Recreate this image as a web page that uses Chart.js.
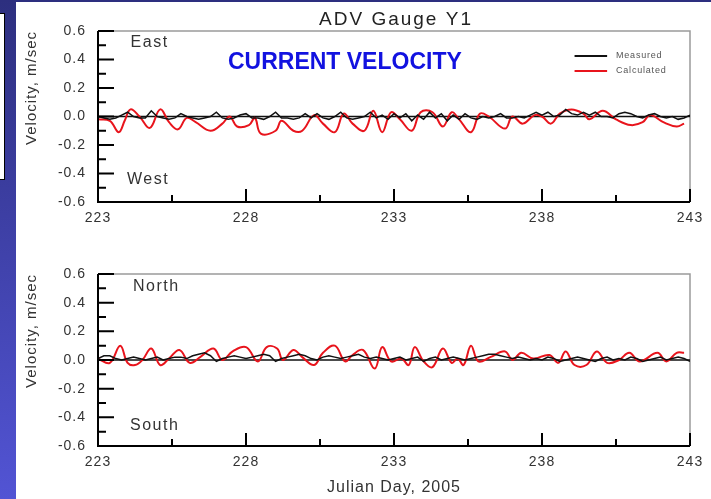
<!DOCTYPE html>
<html>
<head>
<meta charset="utf-8">
<script src="https://cdn.jsdelivr.net/npm/chart.js@4.4.0/dist/chart.umd.min.js"></script>
<style>
  body { margin:0; width:711px; height:499px; overflow:hidden; background:#fff; position:relative; }
  #side { position:absolute; left:0; top:0; width:16px; height:499px; background:linear-gradient(#2d2f7f, #5254d4); }
  #topbar { position:absolute; left:0; top:0; width:711px; height:2px; background:#2d2f7f; }
  #box { position:absolute; left:-2px; top:13px; width:5px; height:165px; background:#fff; border:1.5px solid #000; }
  canvas { position:absolute; left:16px; }
</style>
</head>
<body>
<div id="side"></div><div id="topbar"></div><div id="box"></div>
<canvas id="eastWest" width="695" height="225" style="top:2px"></canvas>
<canvas id="northSouth" width="695" height="249" style="top:250px"></canvas>
<script>
// axis ranges
const dayMin = 223, dayMax = 243;
const velMin = -0.6, velMax = 0.6;
// measured series are sampled every 0.2 day starting at day 223
const measStep = 0.2;

// East / West component
const measuredEW = [
  0.00,-0.01,-0.02,-0.01,0.01,0.03,0.00,-0.01,-0.01,0.04,
  0.00,-0.01,-0.02,-0.01,0.02,0.00,-0.01,-0.02,-0.01,0.00,
  0.03,-0.01,-0.02,-0.01,0.01,0.02,-0.01,-0.01,-0.02,0.00,
  0.03,-0.01,-0.01,-0.02,-0.01,0.02,-0.01,0.02,-0.01,-0.02,
  0.00,0.03,-0.01,-0.02,-0.01,0.00,0.03,-0.01,0.01,-0.02,
  0.02,-0.01,0.02,-0.03,0.01,-0.02,0.03,-0.01,0.02,-0.03,
  0.01,-0.02,0.02,-0.01,-0.02,0.00,-0.01,0.00,0.02,-0.01,
  -0.01,0.00,-0.01,0.01,0.03,0.01,0.03,0.00,0.01,0.05,
  0.02,0.01,0.03,0.01,0.03,0.00,0.00,-0.01,0.02,0.03,
  0.02,0.00,-0.01,0.01,0.02,0.00,-0.01,0.00,-0.02,-0.01,
  0.01
];
const calcDaysEW = [
  223.0,223.4,223.7,223.9,224.1,224.4,224.75,225.1,225.4,225.7,
  226.0,226.3,226.8,227.2,227.45,227.7,228.1,228.3,228.5,229.0,
  229.2,229.6,229.9,230.3,230.6,231.0,231.3,231.6,232.0,232.3,
  232.6,232.9,233.2,233.6,233.9,234.3,234.65,234.95,235.2,235.6,
  235.9,236.2,236.75,237.0,237.35,237.75,238.0,238.3,238.6,239.0,
  239.4,239.6,240.05,240.5,241.0,241.4,241.65,242.1,242.55,242.8
];
const calculatedEW = [
  -0.02,-0.03,-0.11,-0.03,0.05,0.00,-0.08,0.05,-0.04,-0.09,
  -0.01,-0.04,-0.10,-0.05,0.00,-0.07,-0.06,-0.01,-0.12,-0.10,
  -0.03,-0.10,-0.10,0.01,-0.05,-0.11,0.02,-0.05,-0.10,0.04,
  -0.11,0.03,-0.02,-0.10,0.03,0.03,-0.07,0.03,-0.02,-0.11,
  0.02,0.00,-0.085,0.00,-0.05,0.01,0.00,-0.05,0.02,0.05,
  0.02,-0.02,0.04,-0.02,-0.06,-0.04,0.01,-0.04,-0.07,-0.05
];

// North / South component
const measuredNS = [
  0.01,0.03,0.03,0.01,0.00,0.01,0.02,0.01,0.00,0.01,
  0.02,0.00,0.01,0.02,0.02,0.01,0.03,0.04,0.05,0.03,
  -0.01,0.01,0.02,0.03,0.02,0.01,0.02,0.03,0.04,0.03,
  -0.01,0.01,0.02,0.03,0.04,0.03,0.01,0.00,0.02,0.03,
  0.02,0.01,0.02,0.03,0.04,0.02,0.01,0.02,0.01,0.00,
  0.01,0.02,0.00,0.01,0.02,-0.01,0.01,0.02,0.00,0.01,
  0.02,0.01,0.00,0.01,0.02,0.03,0.04,0.04,0.03,0.02,
  0.01,0.02,0.01,0.00,0.01,0.00,0.02,0.01,-0.01,0.00,
  0.01,0.02,0.01,0.00,-0.01,0.01,0.02,0.00,0.01,0.00,
  0.02,0.01,-0.01,0.00,0.01,0.02,0.00,0.01,0.02,0.01,
  -0.01
];
const calcDaysNS = [
  223.0,223.4,223.75,224.0,224.25,224.5,224.8,225.1,225.4,225.75,
  226.1,226.45,226.9,227.2,227.55,228.0,228.4,228.7,229.05,229.25,
  229.6,229.9,230.3,230.6,231.0,231.35,231.6,231.95,232.35,232.6,
  232.9,233.25,233.5,233.7,234.0,234.3,234.65,234.95,235.15,235.35,
  235.6,235.85,236.25,236.75,237.0,237.3,237.7,238.25,238.55,238.8,
  239.1,239.5,239.85,240.2,240.6,240.95,241.3,241.9,242.2,242.55,
  242.8
];
const calculatedNS = [
  0.01,-0.02,0.10,-0.02,-0.035,0.00,0.08,-0.035,0.01,0.07,
  -0.02,0.02,0.08,0.00,0.06,0.09,-0.01,0.09,0.08,0.00,
  0.07,0.02,-0.035,0.05,0.10,-0.01,0.035,0.07,-0.06,0.09,
  -0.01,0.01,-0.035,0.09,-0.01,-0.05,0.08,-0.02,0.01,-0.035,
  0.10,-0.01,0.02,0.06,0.00,0.05,0.01,0.035,-0.02,0.06,
  -0.035,-0.035,0.06,-0.02,0.00,0.05,-0.01,0.05,-0.01,0.05,
  0.05
];

const RED = '#e8141c', BLACK = '#111';
const FONT = '"Liberation Sans", Arial, sans-serif';

// frame, inward ticks, zero line and in-plot texts
const framePlugin = {
  id: 'frame',
  beforeDraw(chart) { chart.ctx.letterSpacing = '1px'; },
  beforeDatasetsDraw(chart) {
    const {ctx, chartArea: a, scales: {y}} = chart;
    ctx.save();
    ctx.strokeStyle = '#9a9a9a';
    ctx.lineWidth = 1.5;
    ctx.beginPath();
    ctx.moveTo(a.left, a.top); ctx.lineTo(a.right, a.top); ctx.lineTo(a.right, a.bottom);
    ctx.stroke();
    const y0 = y.getPixelForValue(0);
    ctx.strokeStyle = BLACK;
    ctx.beginPath(); ctx.moveTo(a.left, y0); ctx.lineTo(a.right, y0); ctx.stroke();
    ctx.restore();
  },
  afterDatasetsDraw(chart, args, opts) {
    const {ctx, chartArea: a, scales: {x, y}} = chart;
    ctx.save();
    ctx.strokeStyle = '#000';
    ctx.lineWidth = 2;
    ctx.beginPath();
    ctx.moveTo(a.left, a.top); ctx.lineTo(a.left, a.bottom); ctx.lineTo(a.right, a.bottom);
    y.ticks.forEach(t => {
      const py = y.getPixelForValue(t.value);
      const len = Math.round(t.value * 10) % 2 === 0 ? 16 : 8;
      ctx.moveTo(a.left, py); ctx.lineTo(a.left + len, py);
    });
    x.ticks.forEach(t => {
      const px = x.getPixelForValue(t.value);
      const len = Math.abs((t.value - dayMin) % 5) < 1e-6 ? 13 : 7;
      ctx.moveTo(px, a.bottom); ctx.lineTo(px, a.bottom - len);
    });
    ctx.stroke();

    ctx.textBaseline = 'middle';
    ctx.textAlign = 'left';
    (opts.notes || []).forEach(n => {
      ctx.font = n.font; ctx.fillStyle = n.color; ctx.letterSpacing = n.spacing;
      ctx.fillText(n.text, x.getPixelForValue(n.x), y.getPixelForValue(n.y));
    });

    if (opts.legend) {
      const lg = opts.legend;
      chart.data.datasets.forEach((ds, i) => {
        const py = y.getPixelForValue(lg.ys[i]);
        ctx.strokeStyle = ds.borderColor; ctx.lineWidth = 2;
        ctx.beginPath(); ctx.moveTo(x.getPixelForValue(lg.x0), py); ctx.lineTo(x.getPixelForValue(lg.x1), py); ctx.stroke();
        ctx.font = '9px ' + FONT; ctx.fillStyle = '#555'; ctx.letterSpacing = '0.8px';
        ctx.fillText(ds.label, x.getPixelForValue(lg.tx), py);
      });
    }

    if (opts.title) {
      ctx.font = '19px ' + FONT; ctx.fillStyle = '#222'; ctx.letterSpacing = '2px';
      ctx.textAlign = 'center';
      ctx.fillText(opts.title, (a.left + a.right) / 2 + 2, a.top - 11);
    }
    ctx.restore();
  }
};

function makeChart(id, measured, calcDays, calculated, cfg) {
  const measPts = measured.map((v, i) => ({x: dayMin + i * measStep, y: v}));
  const calcPts = calcDays.map((d, i) => ({x: d, y: calculated[i]}));
  return new Chart(document.getElementById(id), {
    type: 'line',
    data: {
      datasets: [
        { label: 'Measured', data: measPts, borderColor: BLACK, borderWidth: 1.5, pointRadius: 0, tension: 0 },
        { label: 'Calculated', data: calcPts, borderColor: RED, borderWidth: 2, pointRadius: 0, tension: 0.4 }
      ]
    },
    plugins: [framePlugin],
    options: {
      responsive: false,
      animation: false,
      layout: { padding: { left: 0, top: cfg.top, right: 21, bottom: 0 } },
      plugins: {
        legend: { display: false },
        tooltip: { enabled: false },
        frame: { notes: cfg.notes, legend: cfg.legend, title: cfg.title }
      },
      scales: {
        x: {
          type: 'linear', min: dayMin, max: dayMax,
          afterFit(s) { s.height = cfg.xAxisH; },
          grid: { display: false, drawTicks: false },
          border: { display: false },
          ticks: {
            stepSize: 2.5, autoSkip: false, maxRotation: 0, padding: 8,
            color: '#333', font: { family: FONT, size: 14 },
            callback: v => Math.abs((v - dayMin) % 5) < 1e-6 ? String(v) : ''
          },
          title: {
            display: !!cfg.xTitle, text: cfg.xTitle, color: '#333',
            font: { family: FONT, size: 16 }, padding: { top: 0, bottom: 2 }
          }
        },
        y: {
          min: velMin, max: velMax,
          afterFit(s) { s.width = 82; },
          grid: { display: false, drawTicks: false },
          border: { display: false },
          ticks: {
            stepSize: 0.1, autoSkip: false, padding: 12,
            color: '#333', font: { family: FONT, size: 14 },
            callback: v => { const n = Math.round(v * 10); return n % 2 === 0 ? (n / 10).toFixed(1) : ''; }
          },
          title: {
            display: true, text: 'Velocity, m/sec', align: 'end', color: '#333',
            font: { family: FONT, size: 15 }, padding: { top: 7, bottom: 0 }
          }
        }
      }
    }
  });
}

const textFont = '16px ' + FONT;
makeChart('eastWest', measuredEW, calcDaysEW, calculatedEW, {
  top: 29, xAxisH: 25, title: 'ADV Gauge Y1',
  notes: [
    { text: 'East', x: 224.1, y: 0.52, font: textFont, color: '#333', spacing: '1.5px' },
    { text: 'West', x: 223.98, y: -0.445, font: textFont, color: '#333', spacing: '1.5px' },
    { text: 'CURRENT VELOCITY', x: 227.39, y: 0.38, font: 'bold 23px ' + FONT, color: '#1212e0', spacing: '0px' }
  ],
  legend: { x0: 239.1, x1: 240.2, tx: 240.5, ys: [0.425, 0.32] }
});
makeChart('northSouth', measuredNS, calcDaysNS, calculatedNS, {
  top: 24, xAxisH: 53, xTitle: 'Julian Day, 2005',
  notes: [
    { text: 'North', x: 224.18, y: 0.51, font: textFont, color: '#333', spacing: '1.5px' },
    { text: 'South', x: 224.08, y: -0.455, font: textFont, color: '#333', spacing: '1.5px' }
  ]
});
</script>
</body>
</html>
